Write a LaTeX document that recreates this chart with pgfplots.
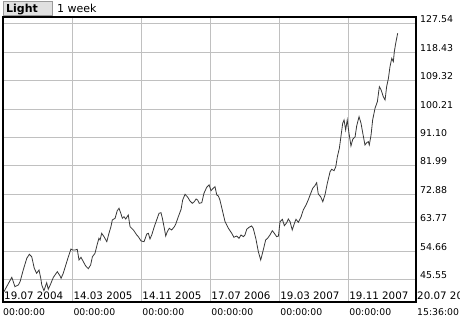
\documentclass[border=0pt]{standalone}
\usepackage{fontspec}
\setmainfont{DejaVu Sans}
\usepackage{pgfplots}
\pgfplotsset{compat=1.18}
\definecolor{gridgray}{HTML}{C0C0C0}
\definecolor{linegray}{HTML}{383838}
\definecolor{btnfill}{HTML}{E0E0E0}
\definecolor{btnedge}{HTML}{9A9A9A}
\begin{document}
\begin{tikzpicture}[lbl/.style={font=\fontsize{10.3}{12}\selectfont, anchor=base west, inner sep=0pt, text=black},
  tlbl/.style={font=\fontsize{9.3}{11}\selectfont, anchor=base west, inner sep=0pt, text=black}]
\begin{axis}[
  name=main,
  scale only axis,
  width=413pt, height=285pt,
  xmin=-1.17, xmax=208.4,
  ymin=38.33, ymax=129.75,
  clip=false,
  axis line style={black, line width=1.5pt},
  xtick={34,69,104,139,174},
  xticklabels={},
  ytick={45.55,54.66,63.77,72.88,81.99,91.10,100.21,109.32,118.43,127.54},
  yticklabels={45.55,54.66,63.77,72.88,81.99,91.10,100.21,109.32,118.43,127.54},
  yticklabel pos=right,
  yticklabel style={font=\fontsize{9.4}{11}\selectfont, anchor=base west, inner sep=0pt, xshift=4pt, yshift=1pt},
  major tick length=0pt,
  grid=major,
  major grid style={gridgray, line width=1pt},
]
\addplot[linegray, line width=0.8pt, mark=none] coordinates {
(-0.7,41.64) (3.3,46.26) (4.9,43.24) (6.6,43.79) (7.5,44.84) (9.1,48.60) (10.9,52.35) (12.2,53.63)
(13.4,52.86) (14.7,49.14) (15.9,47.54) (17.1,48.60) (18.0,45.93) (18.5,43.79) (19.6,41.96) (21.0,44.52)
(21.8,42.41) (23.0,44.11) (24.4,46.26) (26.4,48.05) (27.8,46.67) (28.3,45.93) (29.4,47.54) (30.7,50.20)
(32.0,52.86) (33.3,55.33) (34.2,55.01) (35.4,55.01) (36.5,55.24) (37.4,51.81) (38.4,52.67) (39.6,51.26)
(40.8,49.88) (42.1,49.01) (43.3,50.20) (44.2,52.86) (45.5,53.95) (46.7,56.94) (47.5,58.77) (48.1,58.22)
(48.9,60.37) (50.1,59.28) (51.5,57.68) (52.6,60.37) (53.6,62.49) (54.3,64.64) (55.7,65.18) (56.8,67.62)
(57.7,68.39) (58.6,66.79) (59.4,65.18) (60.2,65.70) (61.1,64.96) (62.4,66.24) (63.3,62.49) (65.0,61.43)
(66.7,59.83) (67.5,59.28) (68.9,57.90) (70.4,57.68) (71.8,60.15) (72.6,60.37) (73.4,58.54) (74.3,59.83)
(75.6,62.49) (76.8,64.64) (78.0,66.79) (79.0,66.98) (79.7,65.18) (80.7,61.97) (81.4,59.50) (82.2,60.88)
(83.2,61.97) (84.4,61.43) (85.8,62.49) (86.5,63.35) (87.8,65.70) (89.2,68.07) (90.0,71.05) (91.2,72.88)
(92.6,71.92) (93.7,70.73) (94.9,69.99) (95.9,70.51) (96.8,71.37) (97.6,71.05) (98.4,69.99) (99.7,70.19)
(100.8,73.20) (102.2,75.13) (103.4,75.87) (104.4,74.04) (105.5,74.81) (106.4,75.32) (107.3,72.66) (108.1,72.34)
(108.9,71.05) (110.1,67.85) (111.5,64.09) (113.2,61.97) (114.9,60.37) (116.0,59.09) (117.4,59.50) (118.6,58.77)
(119.6,59.83) (120.8,59.28) (121.6,59.83) (122.5,61.65) (123.7,62.30) (125.0,62.71) (125.8,61.97) (127.1,58.77)
(128.4,54.47) (129.6,51.81) (130.9,55.01) (132.1,58.22) (133.1,58.77) (134.3,59.83) (135.5,61.20) (136.5,60.37)
(137.7,59.28) (138.6,59.50) (139.4,64.09) (140.6,64.86) (141.6,62.81) (142.8,63.77) (143.6,64.96) (144.5,64.09)
(145.6,61.43) (146.7,63.58) (147.5,64.86) (148.7,63.90) (150.1,65.70) (151.2,67.85) (152.6,69.45) (153.7,71.05)
(155.0,73.20) (156.0,74.81) (157.1,75.64) (158.0,76.60) (158.8,72.98) (160.0,72.11) (161.1,70.51) (162.2,72.66)
(163.4,76.41) (164.8,80.13) (165.6,80.90) (166.8,80.45) (167.7,81.74) (168.5,84.94) (169.5,87.64) (170.3,91.36)
(171.2,95.66) (171.9,96.72) (172.7,93.51) (173.5,96.72) (174.4,92.45) (175.4,88.38) (176.3,90.52) (177.5,91.36)
(178.3,94.79) (179.5,97.77) (180.5,95.66) (181.4,92.45) (182.5,88.70) (183.4,89.44) (184.2,89.76) (184.7,88.70)
(185.6,91.91) (186.4,96.72) (187.6,100.47) (188.8,102.59) (189.8,107.40) (190.7,106.34) (191.8,104.19) (192.7,103.13)
(193.5,107.40) (194.4,110.09) (195.2,113.82) (196.1,116.51) (196.9,115.42) (197.4,118.63) (198.1,121.32) (199.1,124.53)
};
% date labels (inside, above bottom border) and time labels (below border)
\node[lbl, xshift=1pt, yshift=2.8pt] at (axis cs:-1.17,38.33) {19.07 2004};
\node[lbl, xshift=1pt, yshift=2.8pt] at (axis cs:34,38.33) {14.03 2005};
\node[lbl, xshift=1pt, yshift=2.8pt] at (axis cs:69,38.33) {14.11 2005};
\node[lbl, xshift=1pt, yshift=2.8pt] at (axis cs:104,38.33) {17.07 2006};
\node[lbl, xshift=1pt, yshift=2.8pt] at (axis cs:139,38.33) {19.03 2007};
\node[lbl, xshift=1pt, yshift=2.8pt] at (axis cs:174,38.33) {19.11 2007};
\node[lbl, xshift=1pt, yshift=2.8pt] at (axis cs:208.4,38.33) {20.07 2008};
\node[tlbl, xshift=0pt, yshift=-13.5pt] at (axis cs:-1.17,38.33) {00:00:00};
\node[tlbl, xshift=1pt, yshift=-13.5pt] at (axis cs:34,38.33) {00:00:00};
\node[tlbl, xshift=1pt, yshift=-13.5pt] at (axis cs:69,38.33) {00:00:00};
\node[tlbl, xshift=1pt, yshift=-13.5pt] at (axis cs:104,38.33) {00:00:00};
\node[tlbl, xshift=1pt, yshift=-13.5pt] at (axis cs:139,38.33) {00:00:00};
\node[tlbl, xshift=1pt, yshift=-13.5pt] at (axis cs:174,38.33) {00:00:00};
\node[tlbl, xshift=1pt, yshift=-13.5pt] at (axis cs:208.4,38.33) {15:36:00};
\end{axis}
\path ([shift={(-3pt,17pt)}]main.north west) coordinate (O);
\begin{scope}[shift={(O)}, x=1pt, y=-1pt]
  \draw[fill=btnfill, draw=btnedge, line width=0.8pt] (3.5,1.5) rectangle (52.5,15);
  \node[anchor=base west, inner sep=0pt, font=\fontsize{11}{13}\selectfont\bfseries] at (6,12.5) {Light};
  \node[anchor=base west, inner sep=0pt, font=\fontsize{11}{13}\selectfont] at (57,12.5) {1 week};
\end{scope}
\pgfresetboundingbox
\path[use as bounding box] (O) rectangle ++(460pt,-320pt);
\end{tikzpicture}
\end{document}
